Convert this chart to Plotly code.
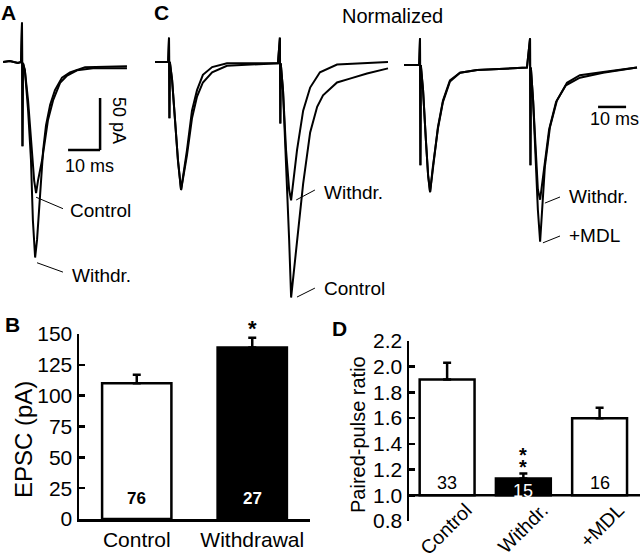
import plotly.graph_objects as go

W, H = 640, 560
def px(x): return x / W
def py(y): return 1 - y / H

FONT = "Liberation Sans, Arial, Helvetica, sans-serif"

# ---------------- Panel A: EPSC traces (time ms, current pA) ----------------
a_ctrl_t = [-5.9, -3.8, -1.3, -0.3, 0.0, 0.15, 0.3, 0.9, 1.9, 2.8, 3.8, 4.4, 5.0, 6.3, 7.2, 8.1, 9.7, 11.9, 14.1, 17.2, 22.2, 32.8]
a_ctrl_i = [0, 1, -1, 0, 38, -81, -1, -8, -37, -75, -114, -126, -114, -94, -75, -56, -37, -20, -13, -8, -6, -6]
a_wd_t = [-5.9, -3.8, -1.3, -0.3, 0.0, 0.15, 0.3, 0.9, 1.9, 2.8, 3.4, 4.1, 4.7, 5.3, 5.9, 6.6, 7.5, 8.8, 10.3, 12.5, 15.0, 19.7, 32.8]
a_wd_i = [0, 1, -1, 0, 38, -81, -1, -8, -46, -94, -152, -188, -171, -142, -114, -85, -61, -41, -27, -15, -10, -5, -4]

# ---------------- Panel C left: normalized paired-pulse traces ----------------
cl_ctrl_t = [-5, -1.4, -0.3, 0, 0.15, 0.3, 1.1, 2.1, 3.2, 4.3, 6.4, 8.2, 10, 12.1, 15.4, 20.7, 28.9, 38.9,
             39.6, 39.75, 39.9, 40.7, 41.8, 42.9, 43.6, 46.1, 47.9, 50.4, 52.9, 55, 60, 64.6, 70.7, 78.2]
cl_ctrl_v = [0, 0, 0, 0.19, -0.44, 0, -0.14, -0.45, -0.77, -1.0, -0.69, -0.38, -0.22, -0.10, -0.04, -0.01, -0.01, -0.01,
             0.19, -0.48, -0.01, -0.22, -0.77, -1.39, -1.84, -1.34, -0.95, -0.55, -0.35, -0.26, -0.16, -0.13, -0.09, -0.05]
cl_wd_t = [-5, -1.4, -0.3, 0, 0.15, 0.3, 1.1, 2.1, 3.2, 4.3, 6.4, 8.2, 10, 12.1, 15.4, 20.7, 28.9, 38.9,
           39.6, 39.75, 39.9, 40.7, 41.8, 42.9, 43.6, 45.7, 47.9, 50.4, 53.9, 60, 78.2]
cl_wd_v = [0, 0, 0, 0.19, -0.44, 0, -0.14, -0.45, -0.77, -1.0, -0.73, -0.44, -0.27, -0.16, -0.08, -0.03, -0.02, -0.01,
           0.19, -0.48, -0.01, -0.22, -0.69, -1.0, -1.08, -0.69, -0.38, -0.20, -0.08, -0.02, 0]

# ---------------- Panel C right ----------------
cr_wd_t = [-5.7, -0.7, -0.3, 0, 0.15, 0.3, 1.1, 2.1, 2.9, 3.6, 4.6, 6.4, 8.2, 10.7, 14.3, 20.4, 38.2,
           39.3, 39.45, 39.6, 40.4, 41.4, 42.1, 42.9, 44.3, 46.1, 48.6, 52.1, 57.1, 65.4, 77.5]
cr_wd_v = [0, 0, 0, 0.21, -0.79, 0, -0.2, -0.59, -0.87, -1.0, -0.8, -0.49, -0.28, -0.12, -0.06, -0.04, -0.02,
           0.21, -0.79, -0.02, -0.28, -0.75, -0.98, -1.06, -0.83, -0.51, -0.29, -0.16, -0.10, -0.06, -0.02]
cr_mdl_t = [-5.7, -0.7, -0.3, 0, 0.15, 0.3, 1.1, 2.1, 2.9, 3.6, 4.6, 6.4, 8.2, 10.7, 14.3, 20.4, 38.2,
            39.3, 39.45, 39.6, 40.4, 41.4, 42.1, 42.9, 44.6, 46.4, 48.9, 52.5, 57.1, 65.4, 77.5]
cr_mdl_v = [0, 0, 0, 0.21, -0.79, 0, -0.2, -0.59, -0.87, -1.0, -0.8, -0.5, -0.29, -0.13, -0.06, -0.04, -0.02,
            0.21, -0.79, -0.02, -0.28, -0.75, -1.14, -1.39, -0.8, -0.49, -0.28, -0.14, -0.08, -0.055, -0.02]

# ---------------- Panel B: EPSC amplitude ----------------
b_cats = ["Control", "Withdrawal"]
b_vals = [110, 139]
b_err = [7, 8]
b_n = ["76", "27"]

# ---------------- Panel D: paired-pulse ratio ----------------
d_cats = ["Control", "Withdr.", "+MDL"]
d_vals = [1.9, 1.13, 1.6]
d_err = [0.13, 0.04, 0.08]
d_n = ["33", "15", "16"]

fig = go.Figure()
LW = 2.0
for t, v, ax in [(a_ctrl_t, a_ctrl_i, 3), (a_wd_t, a_wd_i, 3),
                 (cl_ctrl_t, cl_ctrl_v, 4), (cl_wd_t, cl_wd_v, 4),
                 (cr_wd_t, cr_wd_v, 5), (cr_mdl_t, cr_mdl_v, 5)]:
    fig.add_trace(go.Scatter(x=t, y=v, mode="lines", line=dict(color="black", width=LW),
                             xaxis=f"x{ax}", yaxis=f"y{ax}", hoverinfo="skip", showlegend=False))

fig.add_trace(go.Bar(x=b_cats, y=b_vals, width=0.6,
                     marker=dict(color=["white", "black"], line=dict(color="black", width=2.5)),
                     error_y=dict(type="data", array=b_err, arrayminus=[0] * len(b_err), symmetric=False,
                                  color="black", thickness=2.5, width=4),
                     xaxis="x", yaxis="y", showlegend=False, cliponaxis=False))
fig.add_trace(go.Bar(x=d_cats, y=[v - 1 for v in d_vals], base=1, width=0.72,
                     marker=dict(color=["white", "black", "white"], line=dict(color="black", width=2.5)),
                     error_y=dict(type="data", array=d_err, arrayminus=[0] * len(d_err), symmetric=False,
                                  color="black", thickness=2.5, width=4),
                     xaxis="x2", yaxis="y2", showlegend=False, cliponaxis=False))

hidden = dict(visible=False, showgrid=False, zeroline=False, fixedrange=True, automargin=False)
axis_common = dict(showgrid=False, zeroline=False, showline=True, linecolor="black", linewidth=2.5,
                   tickfont=dict(family=FONT, size=21, color="black"), fixedrange=True, automargin=False)

fig.update_layout(
    template="none",
    width=W, height=H, margin=dict(l=0, r=0, t=0, b=0, pad=0, autoexpand=False),
    paper_bgcolor="white", plot_bgcolor="rgba(0,0,0,0)", showlegend=False,
    font=dict(family=FONT, color="black"),
    xaxis=dict(domain=[px(79), px(310)], anchor="y", range=[-0.5, 1.5], ticks="", **axis_common),
    yaxis=dict(domain=[py(519), py(334)], anchor="x", range=[0, 150], dtick=25, ticks="inside",
               ticklen=6, tickwidth=2.5, tickcolor="black", **axis_common),
    xaxis2=dict(domain=[px(409), 1.0], anchor="free", position=py(494), range=[-0.5, 2.53], ticks="",
                tickangle=-45, ticklabelshift=19, showgrid=False, zeroline=False, showline=False,
                fixedrange=True, automargin=False,
                tickfont=dict(family=FONT, size=19.5, color="black")),
    yaxis2=dict(domain=[py(521), py(341)], anchor="x2", range=[0.8, 2.2], dtick=0.2, tickformat=".1f",
                ticks="inside", ticklen=6, tickwidth=2.5, tickcolor="black", **axis_common),
    xaxis3=dict(domain=[0, px(150)], anchor="y3", range=[-6.875, 40], **hidden),
    yaxis3=dict(domain=[py(300), 1], anchor="x3", range=[-228.8, 59.6], **hidden),
    xaxis4=dict(domain=[px(150), px(395)], anchor="y4", range=[-6.79, 80.7], **hidden),
    yaxis4=dict(domain=[py(300), 1], anchor="x4", range=[-1.859, 0.484], **hidden),
    xaxis5=dict(domain=[px(395), 1], anchor="y5", range=[-8.93, 78.57], **hidden),
    yaxis5=dict(domain=[py(300), 1], anchor="x5", range=[-1.850, 0.512], **hidden),
)

shapes = []
def seg(ax, x0, y0, x1, y1, w=1.0):
    shapes.append(dict(type="line", xref=f"x{ax}", yref=f"y{ax}", x0=x0, y0=y0, x1=x1, y1=y1,
                       line=dict(color="black", width=w)))
# leader lines
seg(3, 4.4, -130, 12.8, -141)
seg(3, 4.7, -193, 12.8, -202)
seg(4, 45.4, -1.078, 52.1, -1.0)
seg(4, 45.7, -1.836, 52.1, -1.766)
seg(5, 44.6, -1.087, 50.0, -1.039)
seg(5, 43.9, -1.40, 50.0, -1.346)
# scale bars
seg(3, 14.4, -84.6, 24.4, -84.6, 2.5)
seg(3, 24.4, -84.6, 24.4, -34.6, 2.5)
seg(5, 63.6, -0.33, 73.6, -0.33, 2.5)
# D baseline at 1.0
shapes.append(dict(type="line", xref="x2 domain", yref="y2", x0=0, x1=1, y0=1.0, y1=1.0,
                   line=dict(color="black", width=2.5)))
fig.update_layout(shapes=shapes)

ann = []
def txt(text, x, y, size=19, xanchor="center", yanchor="middle", color="black", bold=False, angle=0,
        xref="paper", yref="paper"):
    ann.append(dict(text=f"<b>{text}</b>" if bold else text, x=x, y=y, xref=xref, yref=yref,
                    xanchor=xanchor, yanchor=yanchor, showarrow=False, textangle=angle,
                    font=dict(family=FONT, size=size, color=color)))

# panel letters
txt("A", px(8), py(12), size=21, bold=True)
txt("C", px(161), py(12), size=21, bold=True)
txt("B", px(12), py(324), size=21, bold=True)
txt("D", px(339), py(328), size=21, bold=True)
txt("Normalized", px(392), py(16), size=20)
# trace labels
txt("Control", 14.4, -143, xanchor="left", xref="x3", yref="y3")
txt("Withdr.", 15.0, -205, xanchor="left", xref="x3", yref="y3")
txt("Withdr.", 54.6, -1.016, xanchor="left", xref="x4", yref="y4")
txt("Control", 54.6, -1.766, xanchor="left", xref="x4", yref="y4")
txt("Withdr.", 52.5, -1.039, xanchor="left", xref="x5", yref="y5")
txt("+MDL", 52.5, -1.346, xanchor="left", xref="x5", yref="y5")
# scale bar labels
txt("10 ms", px(89), py(166), size=18)
txt("50 pA", px(119), py(120), size=18, angle=90)
txt("10 ms", px(614), py(119), size=18)
# axis titles
txt("EPSC (pA)", px(23), py(440), size=24, angle=-90)
txt("Paired-pulse ratio", px(358), py(435), size=20, angle=-90)
# counts and significance
for c, n, col in zip(b_cats, b_n, ["black", "white"]):
    txt(n, c, 17, size=17, bold=True, color=col, xref="x", yref="y")
txt("*", b_cats[1], py(328), size=22, bold=True, xref="x", yref="paper")
for c, n, col, yy in zip(d_cats, d_n, ["black", "white", "black"], [1.096, 1.033, 1.096]):
    txt(n, c, yy, size=18, color=col, xref="x2", yref="y2")
txt("*", d_cats[1], 1.31, size=20, bold=True, xref="x2", yref="y2")
txt("*", d_cats[1], 1.22, size=20, bold=True, xref="x2", yref="y2")
fig.update_layout(annotations=ann)

fig.write_html("out.html", config={"displayModeBar": False, "staticPlot": True},
               post_script="document.body.style.margin='0';document.body.style.padding='0';")
